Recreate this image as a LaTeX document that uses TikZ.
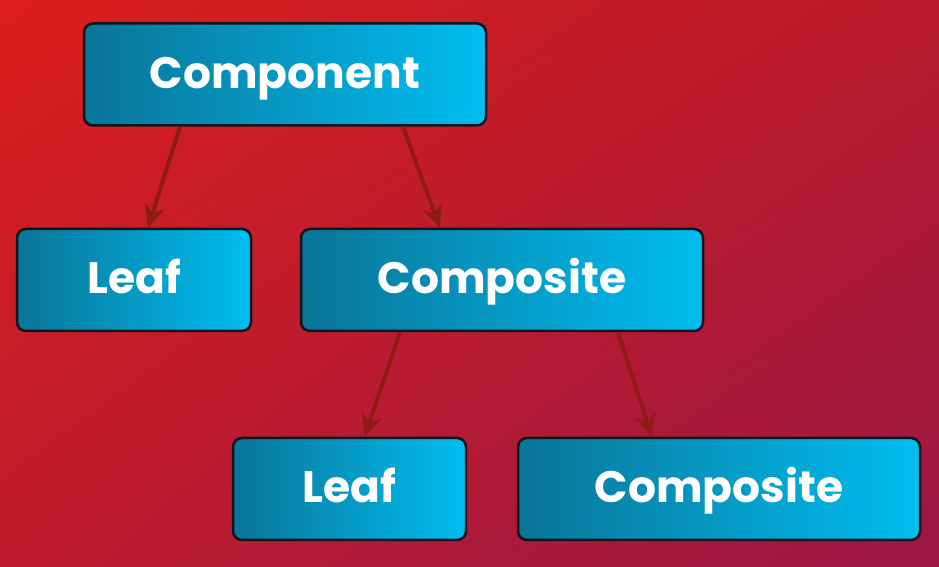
\documentclass[tikz,border=0pt]{standalone}
\usepackage{fontspec}
\setmainfont{Poppins}
\usetikzlibrary{arrows.meta,shadings}
\definecolor{bgTL}{HTML}{DB1F1C}
\definecolor{bgTR}{HTML}{B81B2C}
\definecolor{bgBL}{HTML}{BE1C2E}
\definecolor{bgBR}{HTML}{9A1746}
\definecolor{boxL}{HTML}{0A7598}
\definecolor{boxR}{HTML}{00BDF0}
\definecolor{arrowred}{HTML}{8E1C14}
\definecolor{edge}{HTML}{10141C}
\tikzset{
  box/.style={draw=edge, line width=2.5pt, rounded corners=9pt,
    left color=boxL, right color=boxR, text=white,
    font=\fontsize{44}{50}\selectfont\bfseries,
    text height=33pt, text depth=5pt,
    minimum height=102pt, inner sep=0pt, anchor=center},
  conn/.style={draw=arrowred, line width=4pt,
    -{Stealth[length=22pt, width=20pt, inset=6pt]}}
}
\begin{document}
\begin{tikzpicture}[x=1pt,y=1pt]
\useasboundingbox (0,0) rectangle (939,567);
\shade[upper left=bgTL, upper right=bgTR, lower left=bgBL, lower right=bgBR] (0,0) rectangle (939,567);
\node[box, minimum width=402pt] (comp) at (285,492.5) {Component};
\node[box, minimum width=234pt] (leafA) at (134,287) {Leaf};
\node[box, minimum width=402pt] (compA) at (502,287) {Composite};
\node[box, minimum width=233pt] (leafB) at (349.5,78) {Leaf};
\node[box, minimum width=402pt] (compB) at (719,78) {Composite};
\draw[conn] ([xshift=-105pt]comp.south) -- ([xshift=14pt]leafA.north);
\draw[conn] ([xshift=118pt]comp.south) -- ([xshift=-62pt]compA.north);
\draw[conn] ([xshift=-102pt]compA.south) -- ([xshift=15pt]leafB.north);
\draw[conn] ([xshift=116pt]compA.south) -- ([xshift=-67pt]compB.north);
\end{tikzpicture}
\end{document}
